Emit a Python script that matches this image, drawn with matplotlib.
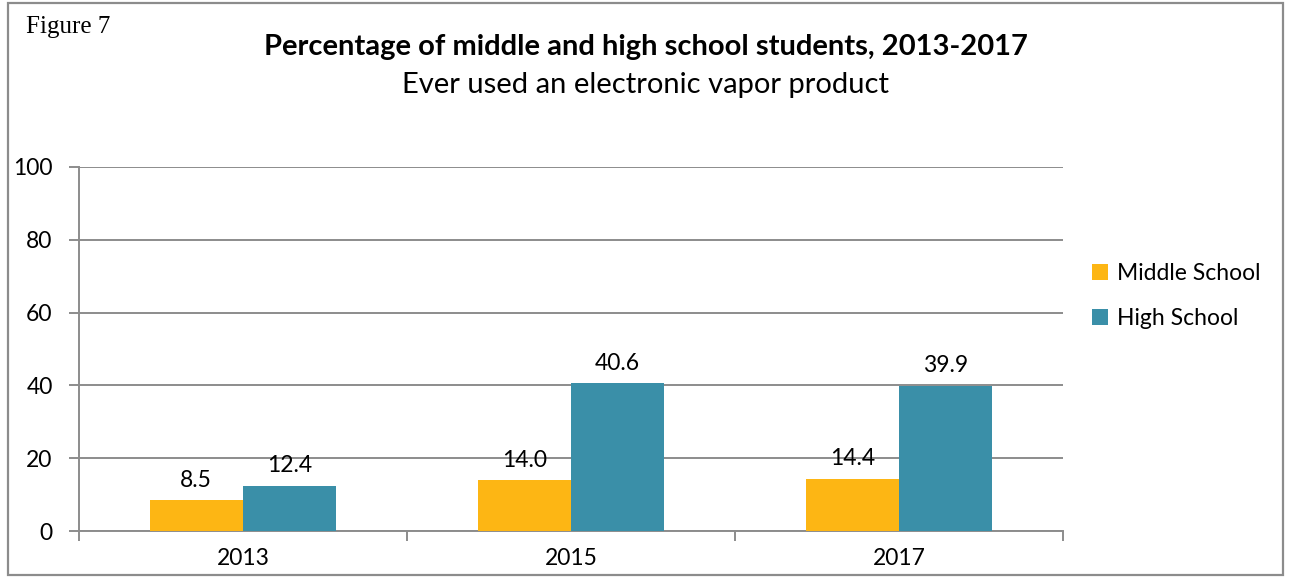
import matplotlib.pyplot as plt
import numpy as np
from matplotlib.patches import Rectangle

years = ["2013", "2015", "2017"]
middle_school = [8.5, 14.0, 14.4]
high_school = [12.4, 40.6, 39.9]
y_ticks = [0, 20, 40, 60, 80, 100]

ORANGE = "#FDB614"
TEAL = "#3A8FA8"
GREY = "#8C8C8C"
FONT = ["Lato", "DejaVu Sans"]
FS = 16.5

fig = plt.figure(figsize=(12.91, 5.78), dpi=100)
ax = fig.add_axes([0.0612, 0.0813, 0.7622, 0.6298])

x = np.arange(len(years))
w = 0.285
b1 = ax.bar(x - w / 2, middle_school, w, color=ORANGE, label="Middle School", zorder=3)
b2 = ax.bar(x + w / 2, high_school, w, color=TEAL, label="High School", zorder=3)

for bars, vals in ((b1, middle_school), (b2, high_school)):
    for r, v in zip(bars, vals):
        ax.text(r.get_x() + r.get_width() / 2, v + 2.6, f"{v:.1f}",
                ha="center", va="bottom", fontsize=FS, family=FONT, zorder=4)

ax.set_xlim(-0.5, len(years) - 0.5)
ax.set_ylim(0, 100)
ax.set_yticks(y_ticks)
ax.set_yticklabels([str(t) for t in y_ticks], fontsize=FS, family=FONT)
ax.yaxis.grid(True, color=GREY, lw=1.4, zorder=1)
ax.tick_params(axis="y", length=7, width=1.4, color=GREY, pad=12)

# category labels without tick marks, boundary ticks as minor ticks
ax.set_xticks(x)
ax.set_xticklabels(years, fontsize=FS, family=FONT)
ax.set_xticks(np.arange(-0.5, len(years)), minor=True)
ax.tick_params(axis="x", which="major", length=0, pad=12)
ax.tick_params(axis="x", which="minor", length=7, width=1.4, color=GREY)

for s in ("top", "right"):
    ax.spines[s].set_visible(False)
for s in ("left", "bottom"):
    ax.spines[s].set_color(GREY)
    ax.spines[s].set_linewidth(1.4)

fig.legend(handles=[b1, b2], loc="upper left", bbox_to_anchor=(0.83, 0.58),
           frameon=False, prop={"family": FONT, "size": FS},
           handlelength=0.7, handleheight=0.7, handletextpad=0.4, labelspacing=1.05)

fig.text(0.5, 0.918, "Percentage of middle and high school students, 2013-2017",
         ha="center", va="center", fontsize=21, fontweight="bold", family=FONT)
fig.text(0.5, 0.853, "Ever used an electronic vapor product",
         ha="center", va="center", fontsize=21, family=FONT)
fig.text(0.02, 0.953, "Figure 7", ha="left", va="center", fontsize=18,
         family=["Liberation Serif", "DejaVu Serif"])

fig.patches.append(Rectangle((0.006, 0.005), 0.988, 0.99, transform=fig.transFigure,
                             fill=False, edgecolor=GREY, lw=1.6))

fig.savefig("out.png", dpi=100)
